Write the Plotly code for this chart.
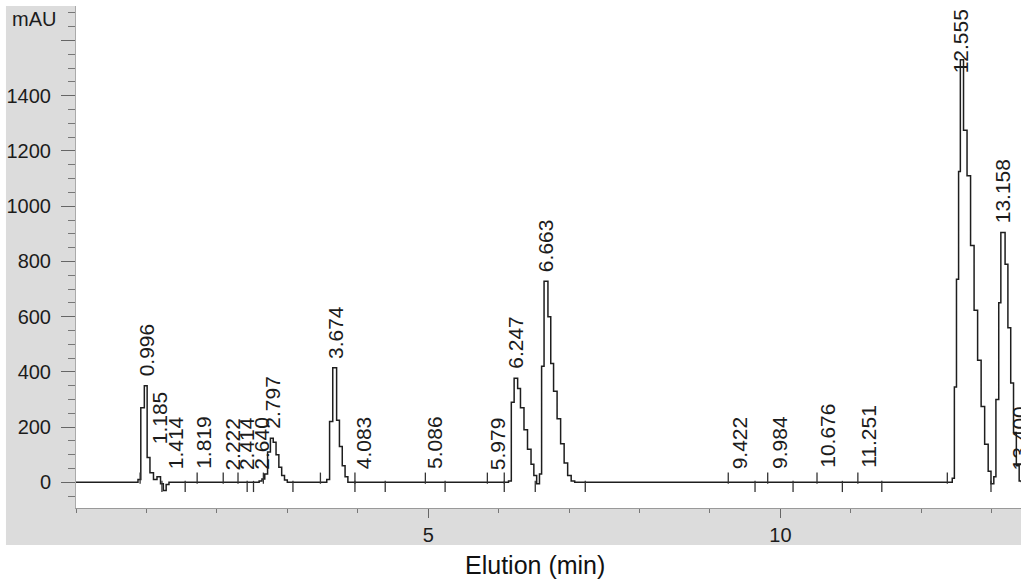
import plotly.graph_objects as go

# Detector trace (mAU) against elution time (min); stepped sampling
time_min = [
    0.00, 0.88, 0.92, 0.97, 1.01, 1.05, 1.10, 1.15, 1.20, 1.24, 1.28, 1.32,
    2.60, 2.64, 2.68, 2.72, 2.76, 2.80, 2.84, 2.88, 2.92, 2.96, 3.00,
    3.56, 3.60, 3.645, 3.70, 3.74, 3.78, 3.82, 3.86,
    6.14, 6.18, 6.22, 6.27, 6.31, 6.36, 6.41, 6.46, 6.50, 6.54, 6.58,
    6.61, 6.645, 6.70, 6.74, 6.78, 6.83, 6.88, 6.93, 6.98, 7.03, 7.08,
    12.44, 12.47, 12.50, 12.53, 12.555, 12.60, 12.65, 12.70, 12.75, 12.80,
    12.85, 12.90, 12.95, 12.99, 13.03, 13.06, 13.10, 13.13, 13.19, 13.23,
    13.27, 13.31, 13.35, 13.39, 13.42,
]
signal_mau = [
    0, 10, 270, 350, 90, 35, 10, 20, -5, -30, -8, 0,
    5, 12, 30, 110, 160, 145, 100, 55, 25, 8, 0,
    10, 220, 415, 225, 130, 60, 20, 0,
    5, 290, 377, 340, 270, 190, 120, 65, 25, -5, 30,
    420, 728, 600, 430, 330, 230, 140, 70, 25, 5, 0,
    15, 345, 735, 1126, 1530, 1275, 1110, 858, 623, 442,
    275, 138, 40, -5, 20, 300, 650, 905, 790, 560,
    360, 180, 60, 5, 0,
]

# Retention-time labels and the signal level each label sits on
peak_rt = [0.996, 1.185, 1.414, 1.819, 2.222, 2.414, 2.640, 2.797, 3.674,
           4.083, 5.086, 5.979, 6.247, 6.663, 9.422, 9.984, 10.676, 11.251,
           12.555, 13.158, 13.400]
peak_label = ["0.996", "1.185", "1.414", "1.819", "2.222", "2.414", "2.640",
              "2.797", "3.674", "4.083", "5.086", "5.979", "6.247", "6.663",
              "9.422", "9.984", "10.676", "11.251", "12.555", "13.158", "13.400"]
label_level = [350, 105, 15, 15, 10, 10, 15, 160, 415, 15, 15, 10, 377, 728,
               15, 15, 20, 20, 1530, 905, 10]

# Integration event marks on the baseline
events_up = [0.91, 1.72, 2.09, 2.30, 2.66, 3.47, 3.96, 4.96, 5.84, 6.08,
             9.26, 9.82, 10.52, 11.10, 12.37]
events_down = [1.22, 1.55, 2.43, 2.52, 3.08, 3.96, 4.39, 5.24, 6.08, 6.52,
               7.23, 9.64, 10.18, 10.88, 11.44, 12.99]

y_tick_vals = [0, 200, 400, 600, 800, 1000, 1200, 1400, 1600]
y_tick_text = ["0", "200", "400", "600", "800", "1000", "1200", "1400", ""]
x_tick_vals = [5, 10]
x_tick_text = ["5", "10"]

X_RANGE = [0.0, 13.416]
Y_RANGE = [-93, 1725]
FONT = "Liberation Sans, Arial, sans-serif"
INK = "#1c1c1c"

fig = go.Figure()

fig.add_trace(go.Scatter(
    x=time_min, y=signal_mau, mode="lines",
    line=dict(color="#1e1e1e", width=1.5, shape="hv"),
    hoverinfo="skip", showlegend=False,
))
fig.add_trace(go.Scatter(
    x=events_up, y=[15] * len(events_up), mode="markers",
    marker=dict(symbol="line-ns", size=8, line=dict(width=1.3, color="#333")),
    hoverinfo="skip", showlegend=False,
))
fig.add_trace(go.Scatter(
    x=events_down, y=[-15] * len(events_down), mode="markers",
    marker=dict(symbol="line-ns", size=8, line=dict(width=1.3, color="#333")),
    hoverinfo="skip", showlegend=False,
))

annotations = []
for rt, txt, lvl in zip(peak_rt, peak_label, label_level):
    if lvl > 1450:
        annotations.append(dict(
            x=rt, y=Y_RANGE[1], xref="x", yref="y", text=txt, textangle=-90,
            showarrow=False, xanchor="center", yanchor="top", yshift=-1,
            font=dict(family=FONT, size=21, color=INK)))
    else:
        annotations.append(dict(
            x=rt, y=lvl, xref="x", yref="y", text=txt, textangle=-90,
            showarrow=False, xanchor="center", yanchor="bottom", yshift=7,
            font=dict(family=FONT, size=21, color=INK)))

annotations.append(dict(
    x=-0.0698, y=0.974, xref="paper", yref="paper", text="mAU",
    showarrow=False, xanchor="left", yanchor="middle",
    font=dict(family=FONT, size=20, color=INK)))
annotations.append(dict(
    x=0.4862, y=0, xref="paper", yref="paper", text="Elution (min)",
    showarrow=False, xanchor="center", yanchor="middle", yshift=-57,
    font=dict(family=FONT, size=25, color="#111")))

fig.update_layout(
    width=1021, height=583, autosize=False,
    margin=dict(l=76, r=0, t=6, b=75, pad=0),
    paper_bgcolor="white", plot_bgcolor="white",
    showlegend=False,
    annotations=annotations,
    shapes=[
        dict(type="rect", xref="paper", yref="paper", x0=-0.0741, x1=1.01,
             y0=-0.0737, y1=1.0, fillcolor="#dcdcdc", line=dict(width=0),
             layer="below"),
        dict(type="rect", xref="paper", yref="paper", x0=0, x1=1,
             y0=0, y1=1, fillcolor="white", line=dict(width=0),
             layer="below"),
    ],
)

fig.update_xaxes(
    range=X_RANGE, showgrid=False, zeroline=False,
    showline=True, linecolor="#999", linewidth=1,
    tickmode="array", tickvals=x_tick_vals, ticktext=x_tick_text,
    ticks="outside", ticklen=9, tickcolor="#666", tickwidth=1,
    tickfont=dict(family=FONT, size=20, color=INK),
    minor=dict(tickmode="linear", tick0=0, dtick=1, ticks="outside",
               ticklen=4, tickcolor="#777"),
)
fig.update_yaxes(
    range=Y_RANGE, showgrid=False, zeroline=False,
    showline=True, linecolor="#aaa", linewidth=1,
    tickmode="array", tickvals=y_tick_vals, ticktext=y_tick_text,
    ticks="outside", ticklen=14, tickcolor="#666", tickwidth=1,
    ticklabelstandoff=6,
    tickfont=dict(family=FONT, size=20, color=INK),
    minor=dict(tickmode="linear", tick0=0, dtick=50, ticks="outside",
               ticklen=7, tickcolor="#777"),
)

fig.write_html("out.html")
